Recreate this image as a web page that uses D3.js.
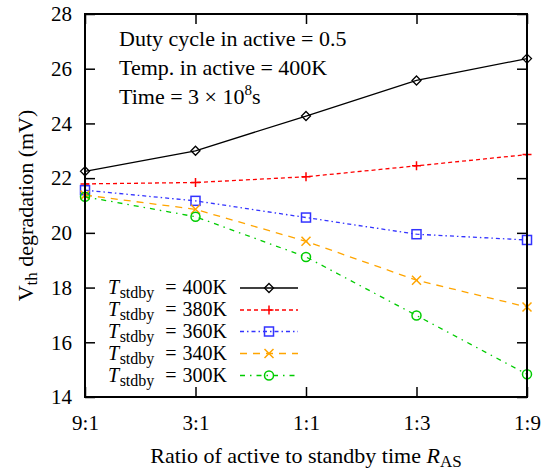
<!DOCTYPE html>
<html>
<head>
<meta charset="utf-8">
<script src="https://cdn.jsdelivr.net/npm/d3@7/dist/d3.min.js"></script>
<style>
  html, body { margin: 0; padding: 0; background: #fff; }
  svg { display: block; font-family: "Liberation Serif", "Times New Roman", serif; }
</style>
</head>
<body>
<svg id="chart" width="546" height="472"></svg>
<script>
// Ratio of active to standby time (x categories)
const ratios = ["9:1", "3:1", "1:1", "1:3", "1:9"];
const yTicks = [14, 16, 18, 20, 22, 24, 26, 28];

// Vth degradation (mV) for each standby temperature
const t400 = [22.25, 23.00, 24.27, 25.57, 26.37];
const t380 = [21.79, 21.84, 22.05, 22.45, 22.86];
const t360 = [21.56, 21.17, 20.56, 19.95, 19.74];
const t340 = [21.38, 20.86, 19.69, 18.27, 17.29];
const t300 = [21.32, 20.59, 19.12, 16.98, 14.83];

const seriesNames = ["400K", "380K", "360K", "340K", "300K"];

const series = [
  { name: seriesNames[0], values: t400, color: "#000000", dash: null,          marker: "diamond" },
  { name: seriesNames[1], values: t380, color: "#ff0000", dash: "4,3",         marker: "plus" },
  { name: seriesNames[2], values: t360, color: "#3333ff", dash: "4,3,1.5,3",   marker: "square" },
  { name: seriesNames[3], values: t340, color: "#ffa500", dash: "7,6",         marker: "cross" },
  { name: seriesNames[4], values: t300, color: "#00cc00", dash: "5,5,1.5,5",   marker: "circle" }
];

const svg = d3.select("#chart");
const plotL = 85, plotR = 527, plotT = 14, plotB = 397;
const fs = 21, fsBig = 22, fsSub = 17, fsLeg = 20, fsLegSub = 16;

const x = d3.scalePoint().domain(ratios).range([plotL, plotR]);
const y = d3.scaleLinear().domain([14, 28]).range([plotB, plotT]);

// Axes: ticks point inward and are mirrored on the opposite side
const tickLen = 10;
const gAxes = svg.append("g");

gAxes.append("g")
  .attr("transform", `translate(0,${plotB})`)
  .call(d3.axisBottom(x).tickSizeInner(-tickLen).tickSizeOuter(0).tickPadding(18))
  .call(g => g.select(".domain").remove())
  .call(g => g.selectAll("text").attr("font-size", fs).attr("font-family", "Liberation Serif").attr("fill", "#000"));

gAxes.append("g")
  .attr("transform", `translate(0,${plotT})`)
  .call(d3.axisTop(x).tickSizeInner(-tickLen).tickSizeOuter(0).tickFormat(""))
  .call(g => g.select(".domain").remove());

gAxes.append("g")
  .attr("transform", `translate(${plotL},0)`)
  .call(d3.axisLeft(y).tickValues(yTicks).tickSizeInner(-tickLen).tickSizeOuter(0).tickPadding(13))
  .call(g => g.select(".domain").remove())
  .call(g => g.selectAll("text").attr("font-size", fs).attr("font-family", "Liberation Serif").attr("fill", "#000"));

gAxes.append("g")
  .attr("transform", `translate(${plotR},0)`)
  .call(d3.axisRight(y).tickValues(yTicks).tickSizeInner(-tickLen).tickSizeOuter(0).tickFormat(""))
  .call(g => g.select(".domain").remove());

gAxes.selectAll(".tick line").attr("stroke", "#000").attr("stroke-width", 1.5);

// Markers
function drawMarker(g, type, cx, cy, color) {
  const s = 4.5;
  if (type === "diamond") {
    g.append("path").attr("d", `M${cx},${cy - s}L${cx + s},${cy}L${cx},${cy + s}L${cx - s},${cy}Z`)
      .attr("fill", "none").attr("stroke", color).attr("stroke-width", 1.3);
  } else if (type === "plus") {
    g.append("path").attr("d", `M${cx - s},${cy}H${cx + s}M${cx},${cy - s}V${cy + s}`)
      .attr("stroke", color).attr("stroke-width", 1.5);
  } else if (type === "square") {
    g.append("rect").attr("x", cx - s).attr("y", cy - s).attr("width", 2 * s).attr("height", 2 * s)
      .attr("fill", "none").attr("stroke", color).attr("stroke-width", 1.5);
  } else if (type === "cross") {
    g.append("path").attr("d", `M${cx - s},${cy - s}L${cx + s},${cy + s}M${cx - s},${cy + s}L${cx + s},${cy - s}`)
      .attr("stroke", color).attr("stroke-width", 1.5);
  } else if (type === "circle") {
    g.append("circle").attr("cx", cx).attr("cy", cy).attr("r", s)
      .attr("fill", "none").attr("stroke", color).attr("stroke-width", 1.5);
  }
}

const line = d3.line().x((d, i) => x(ratios[i])).y(d => y(d));

const gData = svg.append("g");
series.forEach(s => {
  gData.append("path")
    .datum(s.values)
    .attr("d", line)
    .attr("fill", "none")
    .attr("stroke", s.color)
    .attr("stroke-width", 1.3)
    .attr("stroke-dasharray", s.dash);
  s.values.forEach((v, i) => drawMarker(gData, s.marker, x(ratios[i]), y(v), s.color));
});

// Frame
svg.append("rect")
  .attr("x", plotL).attr("y", plotT)
  .attr("width", plotR - plotL).attr("height", plotB - plotT)
  .attr("fill", "none").attr("stroke", "#000").attr("stroke-width", 2);

// Legend: symbol part and value part are laid out separately
const legendRows = [288, 310, 331.5, 353.5, 375.5];
const legendLineX0 = 240, legendLineX1 = 298, legendMarkX = 269;
series.forEach((s, i) => {
  const ly = legendRows[i];
  const sym = svg.append("text")
    .attr("x", 108).attr("y", ly + 6).attr("font-size", fsLeg);
  sym.append("tspan").attr("font-style", "italic").text("T");
  sym.append("tspan").attr("font-size", fsLegSub).attr("dy", 4).attr("dx", 0.5).text("stdby");
  svg.append("text")
    .attr("x", 171).attr("y", ly + 6).attr("font-size", fsLeg)
    .attr("text-anchor", "middle").text("=");
  svg.append("text")
    .attr("x", 227).attr("y", ly + 6).attr("font-size", fsLeg)
    .attr("text-anchor", "end").text(s.name);
  svg.append("line")
    .attr("x1", legendLineX0).attr("x2", legendLineX1)
    .attr("y1", ly).attr("y2", ly)
    .attr("stroke", s.color).attr("stroke-width", 1.3)
    .attr("stroke-dasharray", s.dash);
  drawMarker(svg, s.marker, legendMarkX, ly, s.color);
});

// Condition notes
const notes = svg.append("g").attr("font-size", fsBig);
notes.append("text").attr("x", 119).attr("y", 46).text("Duty cycle in active = 0.5");
notes.append("text").attr("x", 119).attr("y", 75).text("Temp.  in active = 400K");
const n3 = notes.append("text").attr("x", 119).attr("y", 104);
n3.append("tspan").text("Time = 3 \u00d7 10");
n3.append("tspan").attr("font-size", 15).attr("dy", -9).text("8");
n3.append("tspan").attr("dy", 9).text("s");

// Axis titles
const xt = svg.append("text")
  .attr("x", 306).attr("y", 463)
  .attr("text-anchor", "middle").attr("font-size", fsBig);
xt.append("tspan").text("Ratio of active to standby time ");
xt.append("tspan").attr("font-style", "italic").text("R");
xt.append("tspan").attr("font-size", fsSub).attr("dy", 4).text("AS");

const yt = svg.append("text")
  .attr("transform", `translate(33,${(plotT + plotB) / 2}) rotate(-90)`)
  .attr("text-anchor", "middle").attr("font-size", fsBig);
yt.append("tspan").text("V");
yt.append("tspan").attr("font-size", fsSub).attr("dy", 4).text("th");
yt.append("tspan").attr("dy", -4).text(" degradation (mV)");
</script>
</body>
</html>
